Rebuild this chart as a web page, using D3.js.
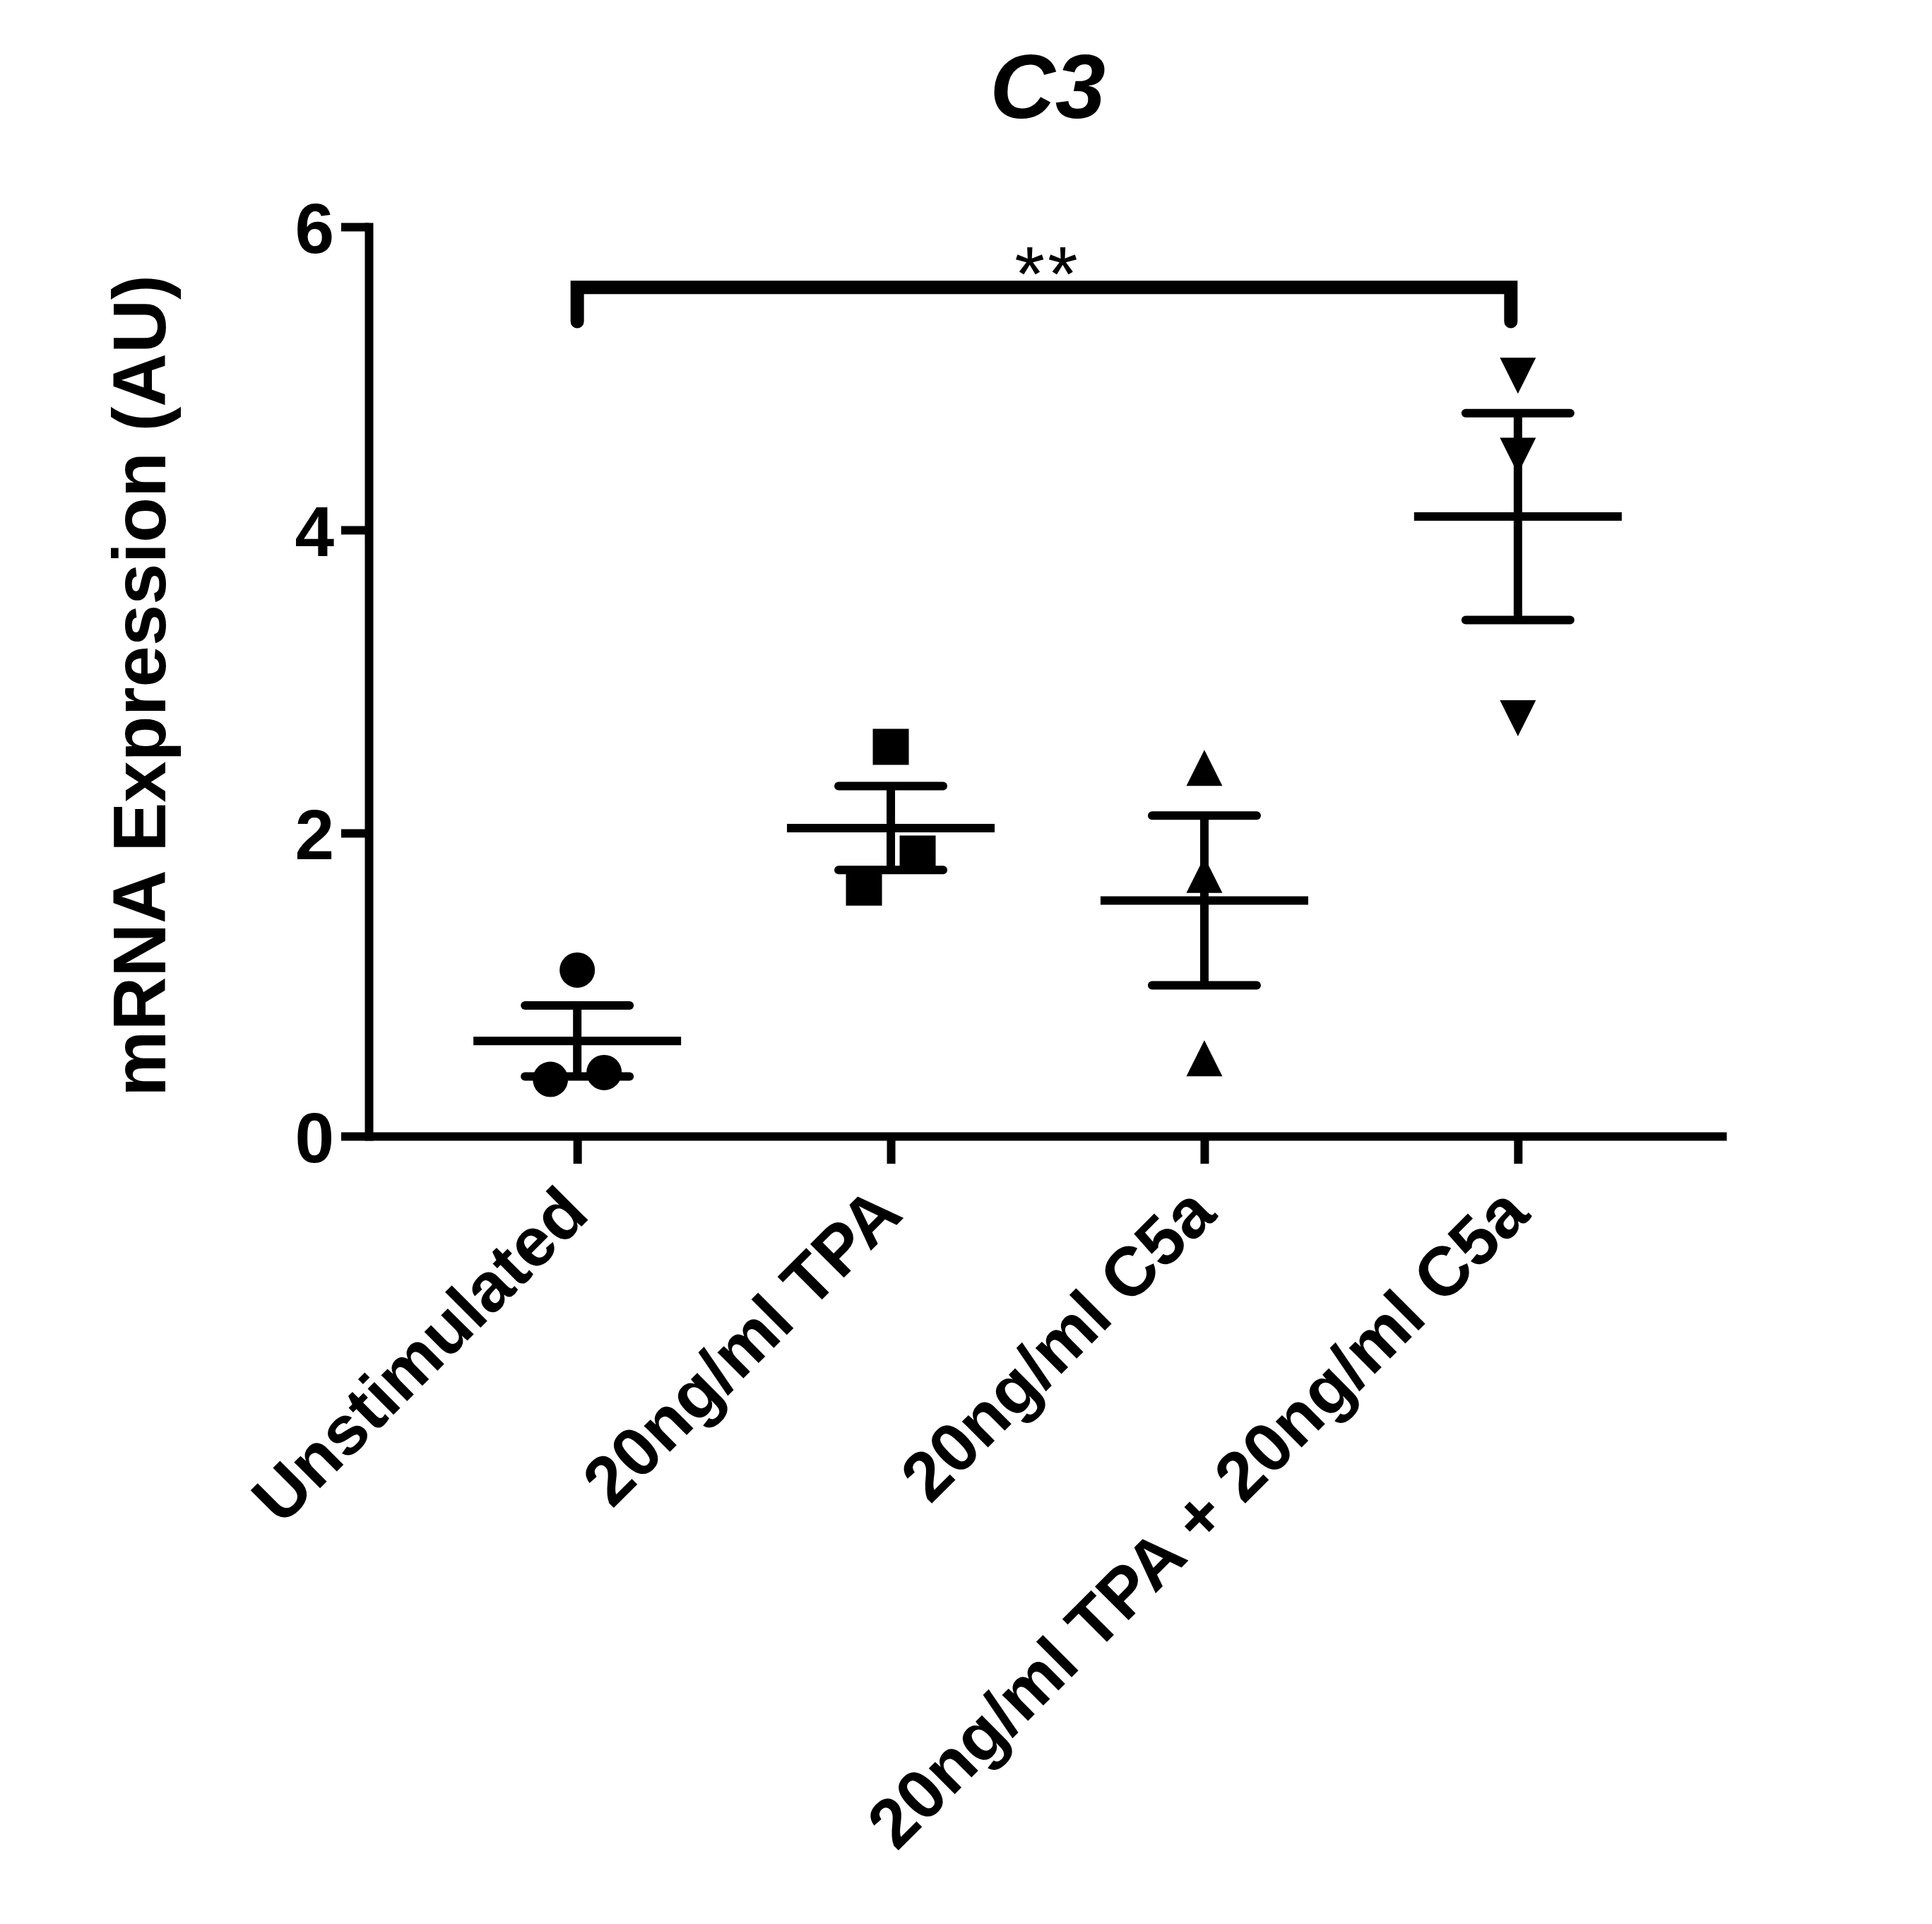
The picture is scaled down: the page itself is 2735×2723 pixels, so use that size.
<!DOCTYPE html>
<html>
<head>
    <meta charset="utf-8">
    <title>C3</title>
    <script src="https://cdn.jsdelivr.net/npm/d3@7/dist/d3.min.js"></script>
</head>
<body style="margin:0;background:#fff;">
<style type="text/css">
    text {font-family: 'Liberation Sans', Arial, sans-serif; fill: #000;}
    .axis path, .axis line {stroke: #000; stroke-width: 12;}
</style>

<div id="container"></div>

<script type="text/javascript">
    // data
    const categories = ['Unstimulated', '20ng/ml TPA', '20ng/ml C5a', '20ng/ml TPA + 20ng/ml C5a'];
    const shapes = ['circle', 'square', 'triangle', 'triangleDown'];
    const points = [
        [1.096, 0.375, 0.420],
        [2.569, 1.865, 1.640],
        [2.430, 1.724, 0.514],
        [5.018, 4.490, 2.757]
    ];
    // horizontal slot of each point (-1 left, 0 centre, 1 right)
    const slots = [
        [0, -1, 1],
        [0, 1, -1],
        [0, 0, 0],
        [0, 0, 0]
    ];
    const means = [0.628, 2.033, 1.555, 4.088];
    const sems = [0.234, 0.277, 0.560, 0.682];
    const yTicks = [0, 2, 4, 6];
    const sig = {from: 0, to: 3, top: 5.6, leg: 5.375, label: '**'};

    const w = 2735;
    const h = 2723;

    const svg = d3.select('div#container')
        .append('svg')
        .attr('width', w)
        .attr('height', h)
        .style('display', 'block');

    const x = d3.scalePoint()
        .domain(categories)
        .range([522, 2444])
        .padding(0.665);

    const y = d3.scaleLinear()
        .domain([0, 6])
        .range([1608, 321]);

    const meanHalf = 147;
    const capHalf = 74;
    const jitter = 38;
    const msize = 51;

    // y axis
    const yAxis = svg.append('g')
        .attr('class', 'axis')
        .attr('transform', `translate(${x.range()[0]},0)`)
        .call(d3.axisLeft(y).tickValues(yTicks).tickFormat(d3.format('d'))
            .tickSize(39).tickSizeOuter(0).tickPadding(10));
    yAxis.select('.domain').attr('stroke-linecap', 'square');
    yAxis.selectAll('text')
        .style('font-size', '100px')
        .style('font-weight', 'bold')
        .attr('dy', '0.36em');

    // x axis
    const xAxis = svg.append('g')
        .attr('class', 'axis')
        .attr('transform', `translate(0,${y(0)})`)
        .call(d3.axisBottom(x).tickSize(39).tickSizeOuter(0));
    xAxis.selectAll('text').remove();

    svg.append('g')
        .selectAll('text')
        .data(categories)
        .join('text')
        .attr('transform', d => `translate(${x(d) + 20},${y(0) + 114}) rotate(-45)`)
        .attr('text-anchor', 'end')
        .style('font-size', '98px')
        .style('font-weight', 'bold')
        .text(d => d);

    // titles
    const midX = (x.range()[0] + x.range()[1]) / 2;
    svg.append('text')
        .attr('x', midX)
        .attr('y', 167)
        .attr('text-anchor', 'middle')
        .style('font-size', '128px')
        .style('font-weight', 'bold')
        .style('font-style', 'italic')
        .text('C3');

    svg.append('text')
        .attr('transform', `translate(234,${(y(0) + y(6)) / 2 + 6}) rotate(-90)`)
        .attr('text-anchor', 'middle')
        .style('font-size', '105px')
        .style('font-weight', 'bold')
        .text('mRNA Expression (AU)');

    // points
    const symbolPath = (shape) => {
        const s = msize / 2;
        if (shape === 'triangle') return `M0,${-s}L${s},${s}L${-s},${s}Z`;
        if (shape === 'triangleDown') return `M0,${s}L${s},${-s}L${-s},${-s}Z`;
        if (shape === 'square') return `M${-s},${-s}H${s}V${s}H${-s}Z`;
        return d3.symbol(d3.symbolCircle, Math.PI * 25 * 25)();
    };

    const marks = svg.append('g');
    categories.forEach((c, i) => {
        marks.selectAll(null)
            .data(points[i])
            .join('path')
            .attr('transform', (d, j) => `translate(${x(c) + slots[i][j] * jitter},${y(d)})`)
            .attr('d', symbolPath(shapes[i]))
            .attr('fill', '#000');
    });

    // mean and SEM
    const bars = svg.append('g')
        .attr('stroke', '#000')
        .attr('stroke-width', 12);

    bars.selectAll('.mean')
        .data(categories)
        .join('line')
        .attr('class', 'mean')
        .attr('x1', d => x(d) - meanHalf)
        .attr('x2', d => x(d) + meanHalf)
        .attr('y1', (d, i) => y(means[i]))
        .attr('y2', (d, i) => y(means[i]));

    bars.selectAll('.err')
        .data(categories)
        .join('line')
        .attr('class', 'err')
        .attr('x1', d => x(d))
        .attr('x2', d => x(d))
        .attr('y1', (d, i) => y(means[i] + sems[i]))
        .attr('y2', (d, i) => y(means[i] - sems[i]));

    [1, -1].forEach(sign => {
        bars.selectAll(null)
            .data(categories)
            .join('line')
            .attr('stroke-linecap', 'round')
            .attr('x1', d => x(d) - capHalf)
            .attr('x2', d => x(d) + capHalf)
            .attr('y1', (d, i) => y(means[i] + sign * sems[i]))
            .attr('y2', (d, i) => y(means[i] + sign * sems[i]));
    });

    // significance bracket
    const bx1 = x(categories[sig.from]);
    const bx2 = x(categories[sig.to]) - 10;
    svg.append('path')
        .attr('d', `M${bx1},${y(sig.leg)}V${y(sig.top)}H${bx2}V${y(sig.leg)}`)
        .attr('fill', 'none')
        .attr('stroke', '#000')
        .attr('stroke-width', 19)
        .attr('stroke-linecap', 'round')
        .attr('stroke-linejoin', 'miter');

    svg.append('text')
        .attr('x', midX)
        .attr('y', 425)
        .attr('text-anchor', 'middle')
        .style('font-size', '110px')
        .style('letter-spacing', '4px')
        .text(sig.label);
</script>
</body>
</html>
